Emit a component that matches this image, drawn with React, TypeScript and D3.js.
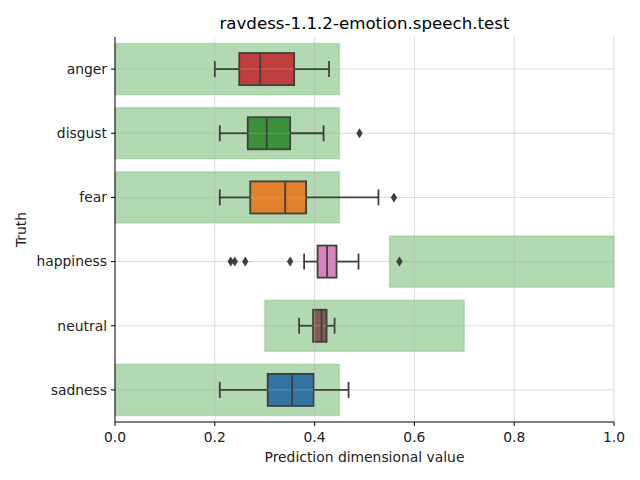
import React from 'react';
import * as d3 from 'd3';

const categories = ['anger', 'disgust', 'fear', 'happiness', 'neutral', 'sadness'];
const whiskerLow = [0.2, 0.21, 0.21, 0.379, 0.369, 0.21];
const q1 = [0.249, 0.266, 0.271, 0.406, 0.397, 0.306];
const median = [0.291, 0.304, 0.341, 0.425, 0.414, 0.355];
const q3 = [0.359, 0.351, 0.383, 0.444, 0.424, 0.398];
const whiskerHigh = [0.429, 0.418, 0.528, 0.488, 0.44, 0.468];
const outliers = [[], [0.49], [0.559], [0.232, 0.24, 0.261, 0.351, 0.57], [], []];
const rangeLow = [0, 0, 0, 0.55, 0.3, 0];
const rangeHigh = [0.45, 0.45, 0.45, 1.0, 0.7, 0.45];
const boxColors = ['#c03d3e', '#3a923a', '#e1812c', '#d684bd', '#845b53', '#3274a1'];
const xTicks = [0, 0.2, 0.4, 0.6, 0.8, 1.0];

const W = 640, H = 480;
const M = { left: 115, right: 26, top: 37, bottom: 58 };
const FONT = 'DejaVu Sans, sans-serif';
const LINE = '#3f3f3f';
const LW = 1.8;

export default function App() {
  const x = d3.scaleLinear().domain([0, 1]).range([M.left, W - M.right]);
  const y = d3.scaleBand<string>().domain(categories).range([M.top, H - M.bottom]).padding(0);
  const bw = y.bandwidth();
  const rectH = bw * 0.8;
  const boxH = bw * 0.5;
  const capH = boxH / 2;
  const diamond = (cx: number, cy: number) => {
    const w = 3.2, h = 5;
    return `M${cx},${cy - h}L${cx + w},${cy}L${cx},${cy + h}L${cx - w},${cy}Z`;
  };
  const cyOf = (c: string) => y(c)! + bw / 2;
  return (
    <svg width={W} height={H} style={{ position: 'absolute', left: 0, top: 0, background: '#fff' }}>
      {/* range rects (patches) */}
      {categories.map((c, i) => (
        <rect key={'r' + c} x={x(rangeLow[i])} y={y(c)! + (bw - rectH) / 2} width={x(rangeHigh[i]) - x(rangeLow[i])} height={rectH}
          fill="green" fillOpacity={0.3} stroke="green" strokeOpacity={0.15} strokeWidth={1.5} />
      ))}
      {/* box patches */}
      {categories.map((c, i) => (
        <rect key={'bx' + c} x={x(q1[i])} y={cyOf(c) - boxH / 2} width={x(q3[i]) - x(q1[i])} height={boxH} fill={boxColors[i]} stroke={LINE} strokeWidth={LW} />
      ))}
      {/* grid between patches and lines */}
      {xTicks.slice(1).map((t) => (
        <line key={'gx' + t} x1={x(t)} x2={x(t)} y1={M.top} y2={H - M.bottom} stroke="#b0b0b0" strokeOpacity={0.45} strokeWidth={1} />
      ))}
      {categories.map((c) => (
        <line key={'gy' + c} x1={M.left} x2={W - M.right} y1={cyOf(c)} y2={cyOf(c)} stroke="#b0b0b0" strokeOpacity={0.45} strokeWidth={1} />
      ))}
      {/* lines: whiskers, caps, medians, fliers */}
      {categories.map((c, i) => {
        const cy = cyOf(c);
        return (
          <g key={'b' + c}>
            <line x1={x(whiskerLow[i])} x2={x(q1[i])} y1={cy} y2={cy} stroke={LINE} strokeWidth={LW} />
            <line x1={x(q3[i])} x2={x(whiskerHigh[i])} y1={cy} y2={cy} stroke={LINE} strokeWidth={LW} />
            <line x1={x(whiskerLow[i])} x2={x(whiskerLow[i])} y1={cy - capH / 2} y2={cy + capH / 2} stroke={LINE} strokeWidth={LW} />
            <line x1={x(whiskerHigh[i])} x2={x(whiskerHigh[i])} y1={cy - capH / 2} y2={cy + capH / 2} stroke={LINE} strokeWidth={LW} />
            <line x1={x(median[i])} x2={x(median[i])} y1={cy - boxH / 2} y2={cy + boxH / 2} stroke={LINE} strokeWidth={LW} />
            {outliers[i].map((o, j) => (
              <path key={j} d={diamond(x(o), cy)} fill={LINE} />
            ))}
          </g>
        );
      })}
      {/* axes */}
      <line x1={M.left} x2={M.left} y1={M.top} y2={H - M.bottom} stroke="#000" strokeWidth={1} />
      <line x1={M.left} x2={W - M.right} y1={H - M.bottom} y2={H - M.bottom} stroke="#000" strokeWidth={1} />
      {xTicks.map((t) => (
        <g key={'xt' + t}>
          <line x1={x(t)} x2={x(t)} y1={H - M.bottom} y2={H - M.bottom + 4} stroke="#000" />
          <text x={x(t)} y={H - M.bottom + 20} textAnchor="middle" fontFamily={FONT} fontSize={13.89} fill="#222">{t.toFixed(1)}</text>
        </g>
      ))}
      {categories.map((c) => (
        <g key={'yt' + c}>
          <line x1={M.left - 4} x2={M.left} y1={cyOf(c)} y2={cyOf(c)} stroke="#000" />
          <text x={M.left - 8} y={cyOf(c)} dy="0.35em" textAnchor="end" fontFamily={FONT} fontSize={13.89} fill="#222">{c}</text>
        </g>
      ))}
      <text x={(M.left + W - M.right) / 2} y={H - 18} textAnchor="middle" fontFamily={FONT} fontSize={13.89} fill="#222">Prediction dimensional value</text>
      <text transform={`translate(26,${(M.top + H - M.bottom) / 2}) rotate(-90)`} textAnchor="middle" fontFamily={FONT} fontSize={13.89} fill="#222">Truth</text>
      <text x={(M.left + W - M.right) / 2} y={29} textAnchor="middle" fontFamily={FONT} fontSize={16.67} fill="#000">ravdess-1.1.2-emotion.speech.test</text>
    </svg>
  );
}
